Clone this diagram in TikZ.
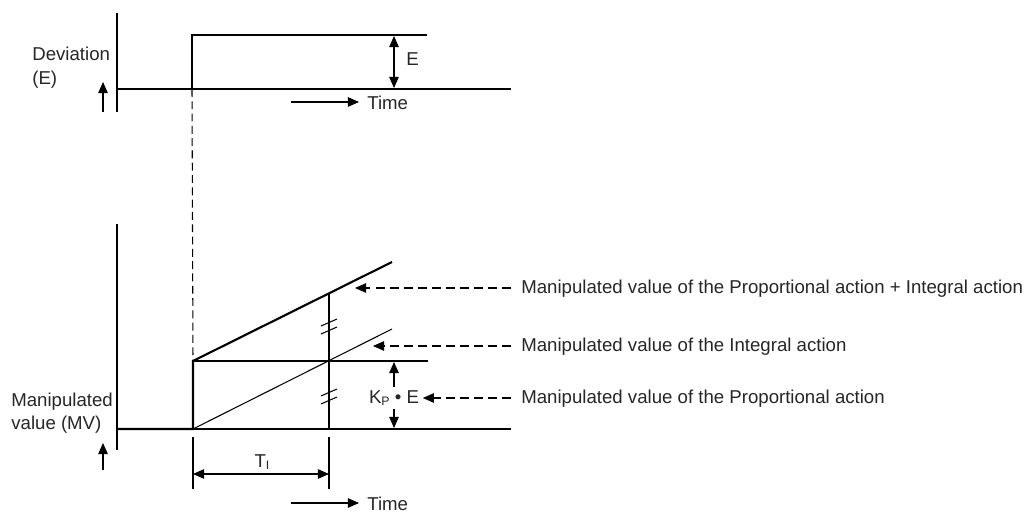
\documentclass[tikz,border=0pt]{standalone}
\usepackage{fontspec}
\setmainfont{Liberation Sans}
\usetikzlibrary{arrows.meta}

\tikzset{
  thinline/.style={line width=0.6pt},
  thickline/.style={line width=1.2pt},
  tip/.style={thinline, -{Triangle[length=6.3pt,width=5.4pt]}},
  tips/.style={thinline, {Triangle[length=6.3pt,width=5.4pt]}-{Triangle[length=6.3pt,width=5.4pt]}},
  leader/.style={thinline, dash pattern=on 5pt off 3pt, -{Triangle[length=6.3pt,width=5.4pt]}},
  lbl/.style={inner sep=0pt, text=black!85, font=\fontsize{10.6}{13.5}\selectfont},
}

\begin{document}
\begin{tikzpicture}[x=0.02cm, y=-0.02cm]
\useasboundingbox (0,0) rectangle (1027,516);

% Deviation graph
\coordinate (dtop) at (117,13);
\coordinate (dbot) at (117,112);
\coordinate (dzero) at (117,89);
\coordinate (dstep) at (192,89);
\coordinate (dhigh) at (192,35);
\coordinate (dhend) at (427,35);
\coordinate (dend) at (511,89);
\coordinate (dup1) at (103,112);
\coordinate (dup2) at (103,82);
\coordinate (ea) at (394,36);
\coordinate (eb) at (394,88);
\coordinate (dt1) at (291,102);
\coordinate (dt2) at (359,102);

\node[lbl, anchor=base west] (dev) at (32,61) {Deviation};
\node[lbl, anchor=base west] (devE) at (32,85) {(E)};
\node[lbl, anchor=west] (E) at (406,59) {E};
\node[lbl, anchor=west] (dtime) at (367,103) {Time};

\draw[thinline] (dtop) -- (dbot);
\draw[tip] (dup1) -- (dup2);
\draw[thickline] (dzero) -- (dstep) -- (dhigh) -- (dhend);
\draw[thinline] (dstep) -- (dend);
\draw[tips] (ea) -- (eb);
\draw[tip] (dt1) -- (dt2);

% Manipulated value graph
\coordinate (mtop) at (117,224);
\coordinate (mbot) at (117,450);
\coordinate (mzero) at (117,429);
\coordinate (mstep) at (193,429);
\coordinate (mhigh) at (193,361);
\coordinate (pi) at (392,262);
\coordinate (ii) at (392,329);
\coordinate (mpend) at (428,361);
\coordinate (mend) at (511,429);
\coordinate (tiA) at (329,293);
\coordinate (tiB) at (329,429);
\coordinate (tiC) at (329,437);
\coordinate (tiD) at (329,489);
\coordinate (t0C) at (193,437);
\coordinate (t0D) at (193,489);
\coordinate (tia) at (193,474);
\coordinate (tib) at (329,474);
\coordinate (mup1) at (103,470);
\coordinate (mup2) at (103,443);
\coordinate (mt1) at (291,503);
\coordinate (mt2) at (359,503);

\node[lbl, anchor=base west] (mv) at (11,407) {Manipulated};
\node[lbl, anchor=base west] (mvb) at (11,430) {value (MV)};
\node[lbl, anchor=base] (TI) at (262,467) {T{\fontsize{7}{8}\selectfont\raisebox{-1.5pt}{I}}};
\node[lbl, anchor=west] (mtime) at (367,504) {Time};
\node[lbl] (kpe) at (394,398) {K{\fontsize{7}{8}\selectfont\raisebox{-1pt}{P}} \textbullet{} E};

\draw[thinline] (mtop) -- (mbot);
\draw[tip] (mup1) -- (mup2);
\draw[thickline] (mzero) -- (mstep) -- (mhigh) -- (pi);
\draw[thinline] (mstep) -- (mend);
\draw[thinline] (mhigh) -- (mpend);
\draw[thinline] (mstep) -- (ii);
\draw[thinline] (tiA) -- (tiB);
\draw[thinline] (tiC) -- (tiD);
\draw[thinline] (t0C) -- (t0D);
\draw[tips] (tia) -- (tib);
\draw[tip] (mt1) -- (mt2);
\draw[tip] ([yshift=2pt]kpe.north) -- (394,362);
\draw[tip] ([yshift=-2pt]kpe.south) -- (394,428);

% break marks
\draw[thinline] (321,326) -- (337,319);
\draw[thinline] (321,334) -- (337,327);
\draw[thinline] (321,396) -- (337,389);
\draw[thinline] (321,404) -- (337,397);

% dashed step line
\draw[thinline, dash pattern=on 4.5pt off 2.5pt] (dstep) -- (mhigh);

% Leaders
\node[lbl, anchor=base west] (lpi) at (521,294) {Manipulated value of the Proportional action + Integral action};
\node[lbl, anchor=base west] (li) at (521,352) {Manipulated value of the Integral action};
\node[lbl, anchor=base west] (lp) at (521,404) {Manipulated value of the Proportional action};
\coordinate (lpiA) at (511,288);
\coordinate (lpiB) at (355,288);
\coordinate (liA) at (511,346);
\coordinate (liB) at (373,346);
\coordinate (lpA) at (511,398);
\draw[leader] (lpiA) -- (lpiB);
\draw[leader] (liA) -- (liB);
\draw[leader] (lpA) -- ([xshift=2pt]kpe.east);
\end{tikzpicture}
\end{document}
